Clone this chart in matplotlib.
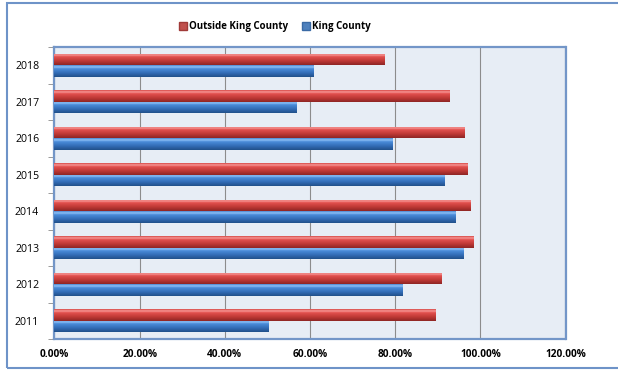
import matplotlib.pyplot as plt
import numpy as np
from matplotlib.colors import LinearSegmentedColormap
from matplotlib.patches import Patch, Rectangle

years = ["2011", "2012", "2013", "2014", "2015", "2016", "2017", "2018"]
outside = [89.5, 91.1, 98.6, 97.7, 97.0, 96.5, 92.8, 77.6]
king = [50.3, 81.8, 96.1, 94.4, 91.6, 79.4, 56.9, 60.9]
xticks = [0, 20, 40, 60, 80, 100, 120]

plt.rcParams['font.family'] = ['Open Sans', 'DejaVu Sans']

red_cmap = LinearSegmentedColormap.from_list(
    "red3d", [(0, "#8E2524"), (0.35, "#BF3936"), (0.7, "#E2504E"),
              (0.85, "#F79897"), (1.0, "#D64745")])
blue_cmap = LinearSegmentedColormap.from_list(
    "blue3d", [(0, "#21508A"), (0.35, "#336DB7"), (0.7, "#4A8CDA"),
               (0.85, "#90C2F6"), (1.0, "#4A86D0")])

fig = plt.figure(figsize=(6.18, 3.70), dpi=100)
ax = fig.add_axes([54.5 / 618, 1 - 339 / 370, 511 / 618, 292 / 370])
ax.set_facecolor("#E7EDF5")

y = np.arange(len(years))
h = 0.31
grad = np.linspace(0, 1, 64).reshape(-1, 1)


def shade(bars, cmap):
    # fake the 3d cylinder look with a vertical gradient clipped to each bar
    for b in bars:
        x0, y0 = b.get_xy()
        im = ax.imshow(grad, extent=[x0, x0 + b.get_width(), y0, y0 + b.get_height()],
                       aspect='auto', cmap=cmap, origin='lower', zorder=3,
                       interpolation='bilinear')
        im.set_clip_path(b)


rb = ax.barh(y + h / 2, outside, height=h, color="#C0504D", zorder=2)
bb = ax.barh(y - h / 2, king, height=h, color="#4F81BD", zorder=2)
shade(rb, red_cmap)
shade(bb, blue_cmap)

ax.set_xlim(0, 120)
ax.set_ylim(-0.5, len(years) - 0.5)
ax.set_xticks(xticks)
ax.set_xticklabels(["%.2f%%" % v for v in xticks], fontsize=7.3, fontweight='bold')
ax.set_yticks(y)
ax.set_yticklabels(years, fontsize=7.6)
ax.set_yticks(np.arange(-0.5, len(years), 1), minor=True)
ax.tick_params(axis='y', which='major', length=0, pad=11)
ax.tick_params(axis='y', which='minor', length=4, color="#8A8A8A")
ax.tick_params(axis='x', length=0, pad=7)
ax.grid(axis='x', color="#8C8C8C", linewidth=0.8, zorder=1)
ax.set_axisbelow(True)
for s in ax.spines.values():
    s.set_color("#7396C8")
    s.set_linewidth(1.6)

fig.patches.append(Rectangle((7 / 618, 2 / 370), 1.0, 365 / 370, transform=fig.transFigure,
                             fill=False, edgecolor="#6E93C8", linewidth=1.5))

handles = [Patch(facecolor="#C0504D", edgecolor="#A03A38"),
           Patch(facecolor="#4F81BD", edgecolor="#3A6AA5")]
fig.legend(handles, ["Outside King County", "King County"], loc='center',
           bbox_to_anchor=(275 / 618, 1 - 27 / 370), ncol=2, frameon=False,
           prop={'size': 7, 'weight': 'bold'}, handlelength=0.8, handleheight=0.8,
           handletextpad=0.2, columnspacing=1.5)

fig.savefig("out.png", dpi=100)
